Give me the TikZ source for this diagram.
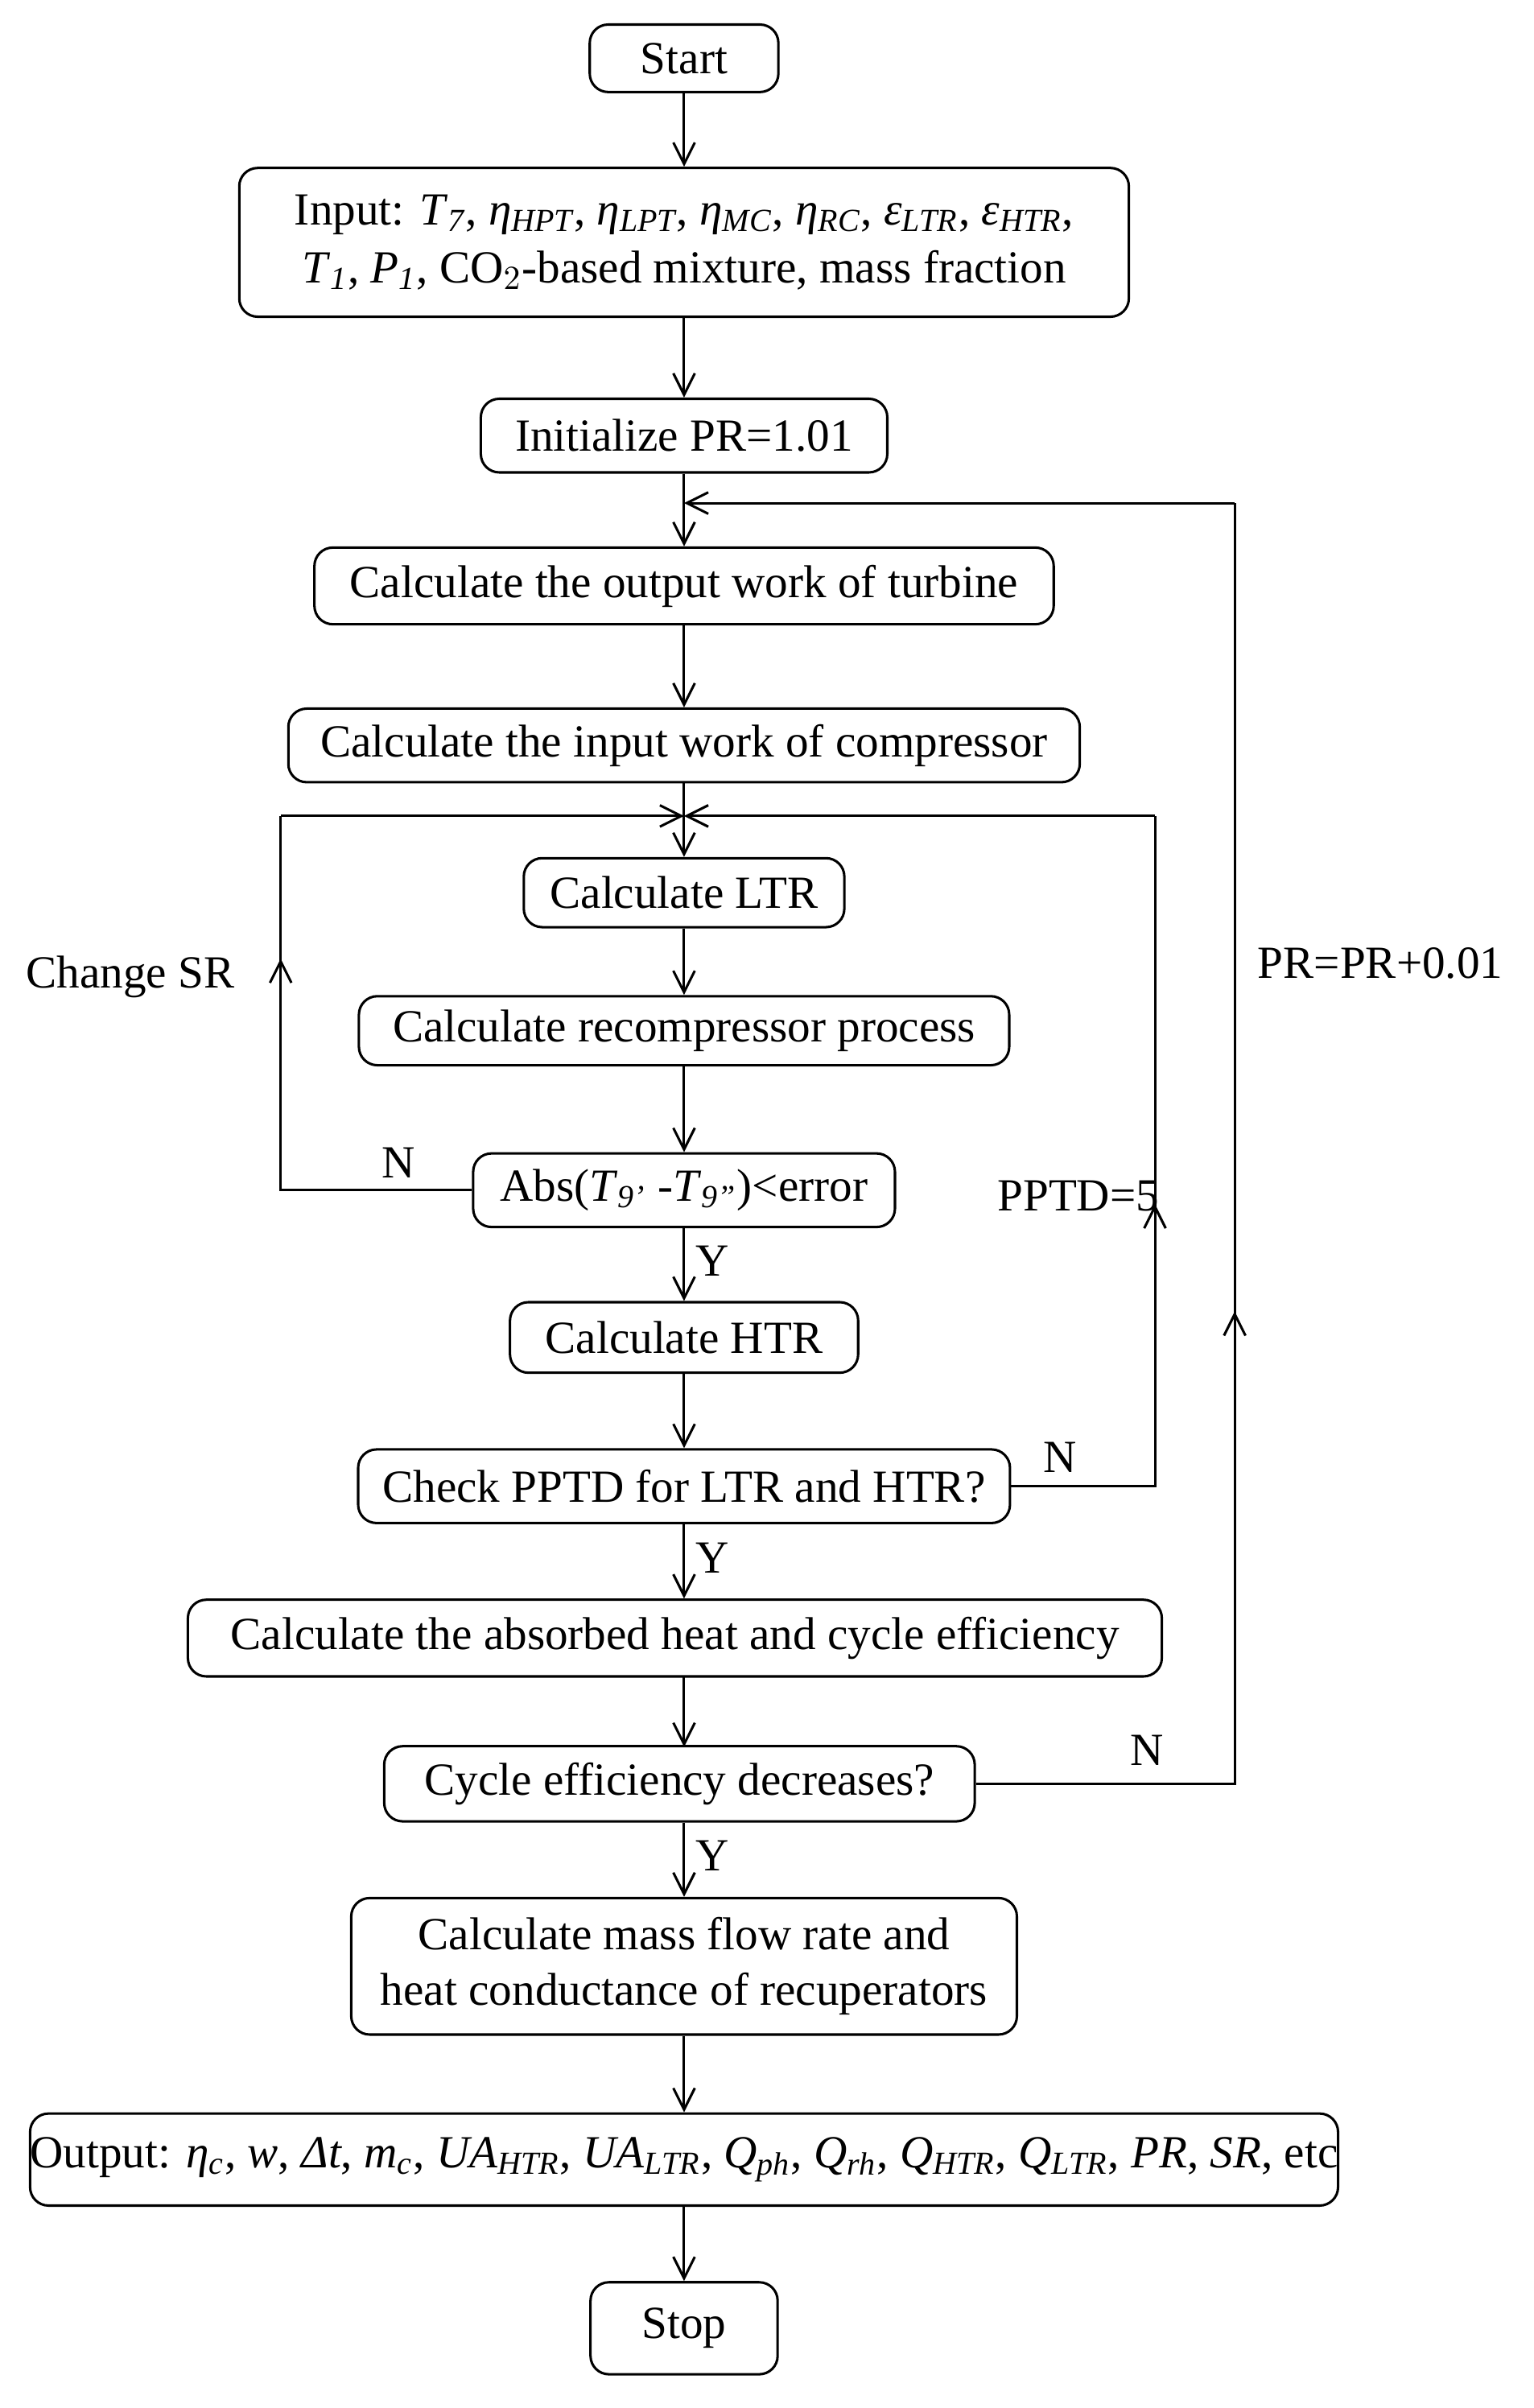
\documentclass[tikz,border=0pt]{standalone}
\usepackage{amsmath}
\usepackage{fontspec}
\setmainfont{Liberation Serif}
\usetikzlibrary{arrows.meta}
\newcommand{\vi}[2]{\textit{#1}$_{\textit{#2}}$}
\begin{document}
\begin{tikzpicture}[x=0.5pt,y=-0.5pt,
 box/.style={draw,line width=0.8pt,rounded corners=6pt,inner sep=0pt,align=center,font=\fontsize{15}{17}\selectfont},
 lab/.style={font=\fontsize{15}{17}\selectfont},
 line/.style={line width=0.8pt},
 arr/.style={line width=0.8pt,-{Straight Barb[length=7pt,width=7pt]}}]
\useasboundingbox (0,0) rectangle (1000,1570);
\node[box,minimum width=61.5pt,minimum height=22pt] (start) at (446,38) {Start};
\node[box,minimum width=290pt,minimum height=48.5pt] (input) at (446,158) {Input: \vi{T}{7}, \vi{η}{HPT}, \vi{η}{LPT}, \vi{η}{MC}, \vi{η}{RC}, \vi{ε}{LTR}, \vi{ε}{HTR},\\[2pt] \vi{T}{1}, \vi{P}{1}, CO$_2$-based mixture, mass fraction};
\node[box,minimum width=132.5pt,minimum height=24pt] (init) at (446,284) {Initialize PR=1.01};
\node[box,minimum width=241pt,minimum height=25pt] (turb) at (446,382) {Calculate the output work of turbine};
\node[box,minimum width=258pt,minimum height=24pt] (comp) at (446,486) {Calculate the input work of compressor};
\node[box,minimum width=104.5pt,minimum height=22.5pt] (ltr) at (446,582) {Calculate LTR};
\node[box,minimum width=212pt,minimum height=22.5pt] (rec) at (446,672) {Calculate recompressor process};
\node[box,minimum width=137.5pt,minimum height=24pt] (abs) at (446,776) {Abs(\textit{T}$_{\textit{9'}}$ -\textit{T}$_{\textit{9''}}$)<error};
\node[box,minimum width=113.5pt,minimum height=23pt] (htr) at (446,872) {Calculate HTR};
\node[box,minimum width=212.5pt,minimum height=24pt] (check) at (446,969) {Check PPTD for LTR and HTR?};
\node[box,minimum width=317.5pt,minimum height=25pt] (heat) at (440,1068) {Calculate the absorbed heat and cycle efficiency};
\node[box,minimum width=192.5pt,minimum height=24.5pt] (cyc) at (443,1163) {Cycle efficiency decreases?};
\node[box,minimum width=217pt,minimum height=44.5pt] (mass) at (446,1282) {Calculate mass flow rate and\\[1pt] heat conductance of recuperators};
\node[box,minimum width=407pt,minimum height=30pt] (out) at (446,1408) {Output: \vi{η}{c}, \textit{w}, \textit{Δt}, \vi{m}{c}, \vi{UA}{HTR}, \vi{UA}{LTR}, \vi{Q}{ph}, \vi{Q}{rh}, \vi{Q}{HTR}, \vi{Q}{LTR}, \textit{PR}, \textit{SR}, etc};
\node[box,minimum width=61pt,minimum height=30pt] (stop) at (446,1518) {Stop};

\coordinate (j1) at (446,328);
\coordinate (j2) at (446,532);
\coordinate (a11) at (446,1093);
\coordinate (b11) at (446,1139);
\draw[arr] (start) -- (input);
\draw[arr] (input) -- (init);
\draw[line] (init) -- (j1);
\draw[arr] (j1) -- (turb);
\draw[arr] (turb) -- (comp);
\draw[line] (comp) -- (j2);
\draw[arr] (j2) -- (ltr);
\draw[arr] (ltr) -- (rec);
\draw[arr] (rec) -- (abs);
\draw[arr] (abs) -- node[lab,right,pos=0.45]{Y} (htr);
\draw[arr] (htr) -- (check);
\draw[arr] (check.south) -- node[lab,right,pos=0.45]{Y} (check.south |- heat.north);
\draw[arr] (a11) -- (b11);
\draw[arr] (mass.north |- cyc.south) -- node[lab,right,pos=0.45]{Y} (mass.north);
\draw[arr] (mass) -- (out);
\draw[arr] (out) -- (stop);

% SR loop
\draw[line] (abs.west) -- (183,776) -- (183,532);
\draw[arr] (183,532) -- (j2);
\draw[arr] (183,700) -- (183,625);
\node[lab] (n1) at (260,758) {N};
\node[lab] (csr) at (85,637) {Change SR};
% PPTD loop
\draw[line] (check.east) -- (753,969) -- (753,532);
\draw[arr] (753,532) -- (j2);
\draw[arr] (753,860) -- (753,785);
\node[lab] (n2) at (691,950) {N};
\node[lab] (pptd) at (703,780) {PPTD=5};
% PR loop
\draw[line] (cyc.east) -- (805,1163) -- (805,328);
\draw[arr] (805,328) -- (j1);
\draw[arr] (805,940) -- (805,855);
\node[lab] (n3) at (748,1141) {N};
\node[lab] (pr) at (900,628) {PR=PR+0.01};
\end{tikzpicture}
\end{document}
